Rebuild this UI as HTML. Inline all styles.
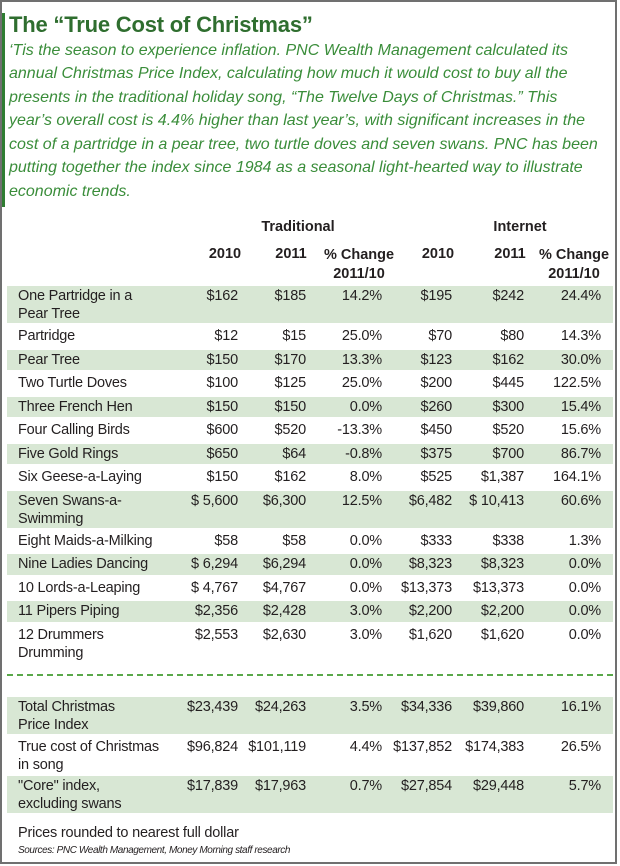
<!DOCTYPE html>
<html><head><meta charset="utf-8">
<style>
body{margin:0;background:#fff;}
#wrap{position:relative;width:613px;height:860px;border:2px solid #707070;background:#fff;overflow:hidden;font-family:"Liberation Sans",sans-serif;color:#231f20;}
.abs{position:absolute;white-space:nowrap;}
#bar{position:absolute;left:0;top:11px;width:3px;height:194px;background:#2f7d32;}
#title{left:7px;top:10px;font-size:22px;font-weight:bold;color:#2f6e2f;letter-spacing:-0.2px;}
.para{left:7px;font-size:16px;font-style:italic;color:#3a8d3a;letter-spacing:0px;}
.hd{font-weight:bold;font-size:14.5px;}
.band{position:absolute;left:5px;width:606px;background:#d8e7d4;}
.cell{position:absolute;font-size:14.5px;letter-spacing:-0.2px;line-height:18px;}
.lbl{left:16px;}
.num{text-align:right;}
#dash{position:absolute;left:5px;top:672px;width:606px;border-top:2px dashed #5aa84a;}
</style></head><body>
<div id="wrap">
<div id="bar"></div>
<div class="abs" id="title">The “True Cost of Christmas”</div>
<div class="abs para" style="top:40px">‘Tis the season to experience inflation. PNC Wealth Management calculated its</div>
<div class="abs para" style="top:63px">annual Christmas Price Index, calculating how much it would cost to buy all the</div>
<div class="abs para" style="top:87px">presents in the traditional holiday song, “The Twelve Days of Christmas.” This</div>
<div class="abs para" style="top:110px">year’s overall cost is 4.4% higher than last year’s, with significant increases in the</div>
<div class="abs para" style="top:134px">cost of a partridge in a pear tree, two turtle doves and seven swans. PNC has been</div>
<div class="abs para" style="top:157px">putting together the index since 1984 as a seasonal light-hearted way to illustrate</div>
<div class="abs para" style="top:181px">economic trends.</div>

<div class="abs hd" style="left:296px;top:217px;transform:translateX(-50%)">Traditional</div>
<div class="abs hd" style="left:518px;top:217px;transform:translateX(-50%)">Internet</div>
<div class="abs hd" style="left:223px;top:244px;transform:translateX(-50%)">2010</div>
<div class="abs hd" style="left:289px;top:244px;transform:translateX(-50%)">2011</div>
<div class="abs hd" style="left:357px;top:244px;transform:translateX(-50%);text-align:center;line-height:19px">% Change<br>2011/10</div>
<div class="abs hd" style="left:436px;top:244px;transform:translateX(-50%)">2010</div>
<div class="abs hd" style="left:508px;top:244px;transform:translateX(-50%)">2011</div>
<div class="abs hd" style="left:572px;top:244px;transform:translateX(-50%);text-align:center;line-height:19px">% Change<br>2011/10</div>

<div id="dash"></div>
<div class="abs" style="left:16px;top:823px;font-size:14.5px;letter-spacing:-0.2px">Prices rounded to nearest full dollar</div>
<div class="abs" style="left:16px;top:843px;font-size:10px;font-style:italic;letter-spacing:-0.4px">Sources: PNC Wealth Management, Money Morning staff research</div>
</div>
<script>
const labels=["One Partridge in a<br>Pear Tree","Partridge","Pear Tree","Two Turtle Doves","Three French Hen","Four Calling Birds","Five Gold Rings","Six Geese-a-Laying","Seven Swans-a-<br>Swimming","Eight Maids-a-Milking","Nine Ladies Dancing","10 Lords-a-Leaping","11 Pipers Piping","12 Drummers<br>Drumming","Total Christmas<br>Price Index","True cost of Christmas<br>in song","\"Core\" index,<br>excluding swans"];
const trad2010=["$162","$12","$150","$100","$150","$600","$650","$150","$ 5,600","$58","$ 6,294","$ 4,767","$2,356","$2,553","$23,439","$96,824","$17,839"];
const trad2011=["$185","$15","$170","$125","$150","$520","$64","$162","$6,300","$58","$6,294","$4,767","$2,428","$2,630","$24,263","$101,119","$17,963"];
const tradChange=["14.2%","25.0%","13.3%","25.0%","0.0%","-13.3%","-0.8%","8.0%","12.5%","0.0%","0.0%","0.0%","3.0%","3.0%","3.5%","4.4%","0.7%"];
const net2010=["$195","$70","$123","$200","$260","$450","$375","$525","$6,482","$333","$8,323","$13,373","$2,200","$1,620","$34,336","$137,852","$27,854"];
const net2011=["$242","$80","$162","$445","$300","$520","$700","$1,387","$ 10,413","$338","$8,323","$13,373","$2,200","$1,620","$39,860","$174,383","$29,448"];
const netChange=["24.4%","14.3%","30.0%","122.5%","15.4%","15.6%","86.7%","164.1%","60.6%","1.3%","0.0%","0.0%","0.0%","0.0%","16.1%","26.5%","5.7%"];
const wrap=document.getElementById('wrap');
const colRights=[236,304,380,450,522,599];
const cols=[trad2010,trad2011,tradChange,net2010,net2011,netChange];
const colNames=['trad-2010','trad-2011','trad-change','net-2010','net-2011','net-change'];
let y=282;
labels.forEach((lab,i)=>{
  if(i===14) y=693;
  const two=lab.includes('<br>');
  const h=two?(i>=14?39.5:40):23.5;
  const band=(i<14)?(i%2===0):(i!==15);
  if(band){
    const b=document.createElement('div');
    b.className='band';
    b.style.top=(y+2)+'px';
    b.style.height=(h-3)+'px';
    
    
    wrap.appendChild(b);
  }
  const t=y+3;
  const l=document.createElement('div');
  l.className='cell lbl';
  l.style.top=t+'px';
  l.innerHTML=lab;
  
  
  wrap.appendChild(l);
  cols.forEach((c,j)=>{
    const d=document.createElement('div');
    d.className='cell num';
    d.style.top=t+'px';
    d.style.right=(613-colRights[j])+'px';
    d.textContent=c[i];
    
    
    wrap.appendChild(d);
  });
  y+=h;
});
</script>
</body></html>
